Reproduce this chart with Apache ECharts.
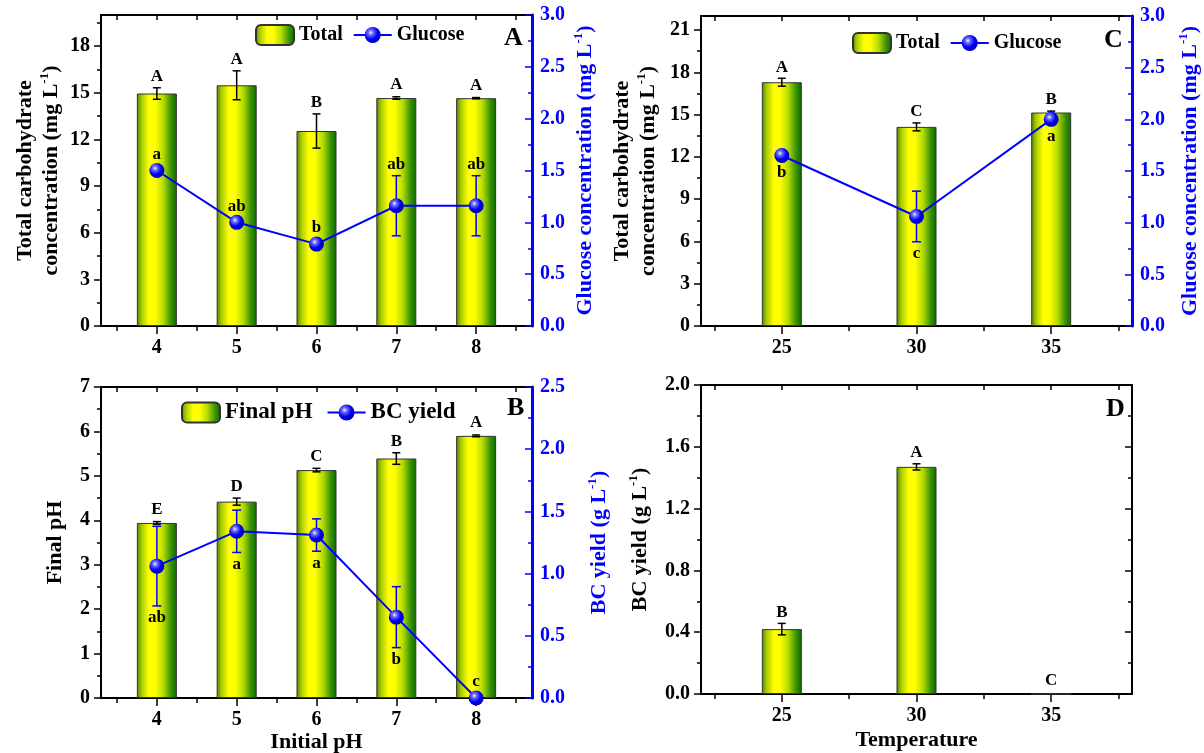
<!DOCTYPE html>
<html><head><meta charset="utf-8">
<script src="https://cdn.jsdelivr.net/npm/echarts@6/dist/echarts.min.js"></script>
<style>html,body{margin:0;padding:0;background:#fff}#c{width:1204px;height:753px}</style>
</head><body><div id="c"></div>
<script>
const F = "'Liberation Serif','Times New Roman',serif";

// ---------- data ----------
const phValues = [4, 5, 6, 7, 8];
const phMinorTicks = [3.5, 4.5, 5.5, 6.5, 7.5, 8.5];
const tempValues = [25, 30, 35];
const tempMinorTicks = [22.5, 27.5, 32.5, 37.5];

// Panel A
const totalPH = [14.95, 15.48, 12.54, 14.66, 14.65];
const totalPHErr = [0.37, 0.93, 1.1, 0.08, 0.04];
const totalPHLetters = ['A', 'A', 'B', 'A', 'A'];
const glucosePH = [1.5, 1.0, 0.79, 1.16, 1.16];
const glucosePHErr = [0, 0, 0, 0.29, 0.29];
const glucosePHLetters = ['a', 'ab', 'b', 'ab', 'ab'];
const glucosePHLetterPos = ['above', 'above', 'above', 'above', 'above'];

// Panel B
const finalPH = [3.94, 4.42, 5.13, 5.39, 5.9];
const finalPHErr = [0.03, 0.08, 0.04, 0.13, 0.02];
const finalPHLetters = ['E', 'D', 'C', 'B', 'A'];
const bcYieldPH = [1.06, 1.34, 1.31, 0.65, 0];
const bcYieldPHErr = [0.32, 0.17, 0.13, 0.245, 0];
const bcYieldPHLetters = ['ab', 'a', 'a', 'b', 'c'];
const bcYieldPHLetterPos = ['below', 'below', 'below', 'below', 'above'];

// Panel C
const totalT = [17.3, 14.13, 15.15];
const totalTErr = [0.28, 0.28, 0.1];
const totalTLetters = ['A', 'C', 'B'];
const glucoseT = [1.65, 1.06, 2.0];
const glucoseTErr = [0.03, 0.245, 0.02];
const glucoseTLetters = ['b', 'c', 'a'];
const glucoseTLetterPos = ['below', 'below', 'below'];

// Panel D
const bcYieldT = [0.42, 1.47, 0];
const bcYieldTErr = [0.037, 0.02, 0];
const bcYieldTLetters = ['B', 'A', 'C'];

// tick labels
const yTotalPHTicks = [0, 3, 6, 9, 12, 15, 18];
const yTotalPHMinor = [1.5, 4.5, 7.5, 10.5, 13.5, 16.5, 19.5];
const yGlucTicks = [0, 0.5, 1.0, 1.5, 2.0, 2.5, 3.0];
const yGlucMinor = [0.25, 0.75, 1.25, 1.75, 2.25, 2.75];
const yFinalPHTicks = [0, 1, 2, 3, 4, 5, 6, 7];
const yFinalPHMinor = [0.5, 1.5, 2.5, 3.5, 4.5, 5.5, 6.5];
const yBCTicks = [0, 0.5, 1.0, 1.5, 2.0, 2.5];
const yBCMinor = [0.25, 0.75, 1.25, 1.75, 2.25];
const yTotalTTicks = [0, 3, 6, 9, 12, 15, 18, 21];
const yTotalTMinor = [1.5, 4.5, 7.5, 10.5, 13.5, 16.5, 19.5];
const yBCTTicks = [0, 0.4, 0.8, 1.2, 1.6, 2.0];
const yBCTMinor = [0.2, 0.6, 1.0, 1.4, 1.8];

// ---------- styles ----------
const BLUE = '#0000ff';
const barGrad = {type: 'linear', x: 0, y: 0, x2: 1, y2: 0, colorStops: [
  {offset: 0, color: '#4f8200'}, {offset: 0.12, color: '#a8cc00'},
  {offset: 0.3, color: '#ffff00'}, {offset: 0.46, color: '#ffff00'},
  {offset: 0.66, color: '#b4dc00'}, {offset: 0.85, color: '#3c9400'},
  {offset: 1, color: '#0c6800'}]};
const sphere = {type: 'radial', x: 0.38, y: 0.35, r: 0.68, colorStops: [
  {offset: 0, color: '#f4f4ff'}, {offset: 0.22, color: '#7070ff'},
  {offset: 0.6, color: '#0000ff'}, {offset: 1, color: '#0000a8'}]};

function rich(color) {
  return {
    b: {fontSize: 22, fontWeight: 'bold', fontFamily: F, color: color, lineHeight: 26},
    s: {fontSize: 13, fontWeight: 'bold', fontFamily: F, color: color, lineHeight: 12, verticalAlign: 'top'}
  };
}

const grids = [
  {left: 101, top: 15, width: 431, height: 311},
  {left: 101, top: 387, width: 431, height: 311},
  {left: 701, top: 16, width: 431, height: 310},
  {left: 701, top: 385, width: 431, height: 309}
].map(g => Object.assign({outerBoundsMode: 'none', containLabel: false}, g));

const xAxis = [], yAxis = [];
function addX(g, min, max, major, minor, name, nameGap) {
  const idx = xAxis.length;
  xAxis.push({type: 'value', gridIndex: g, position: 'bottom', min, max,
    name: name || '', nameLocation: 'middle', nameGap: nameGap || 30,
    nameTextStyle: {fontSize: 22, fontWeight: 'bold', fontFamily: F, color: '#000'},
    axisLine: {show: true, onZero: false, lineStyle: {color: '#000', width: 2}},
    axisTick: {show: true, customValues: major, length: 8, lineStyle: {color: '#000', width: 1.5}},
    axisLabel: {show: true, customValues: major, margin: 12, fontSize: 20, fontWeight: 'bold', fontFamily: F, color: '#000'},
    splitLine: {show: false}});
  xAxis.push({type: 'value', gridIndex: g, position: 'bottom', min, max,
    axisLine: {show: false, onZero: false},
    axisTick: {show: true, customValues: minor, length: 5, lineStyle: {color: '#000', width: 1.5}},
    axisLabel: {show: false}, splitLine: {show: false}});
  xAxis.push({type: 'value', gridIndex: g, position: 'top', min, max,
    axisLine: {show: true, onZero: false, lineStyle: {color: '#000', width: 2}},
    axisTick: {show: true, inside: true, customValues: major.concat(minor), length: 5, lineStyle: {color: '#000', width: 1.5}},
    axisLabel: {show: false}, splitLine: {show: false}});
  return idx;
}
function addY(g, side, min, max, major, minor, opt) {
  const color = opt.color || '#000';
  const idx = yAxis.length;
  const inside = side === 'right';
  yAxis.push({type: 'value', gridIndex: g, position: side, min, max,
    name: opt.name || '', nameLocation: 'middle', nameGap: opt.nameGap || 40, nameRotate: 90,
    nameTextStyle: {rich: rich(color), align: 'center'},
    axisLine: {show: opt.line !== false, onZero: false, lineStyle: {color: color, width: side === 'right' && color !== '#000' ? 3 : 2}},
    axisTick: {show: true, inside: inside, customValues: major, length: 7, lineStyle: {color: color, width: 1.5}},
    axisLabel: {show: opt.labels !== false, customValues: major, margin: inside ? 8 : 11,
      fontSize: 20, fontWeight: 'bold', fontFamily: F, color: color,
      formatter: v => opt.dec ? Number(v).toFixed(1) : String(Math.round(v))},
    splitLine: {show: false}});
  yAxis.push({type: 'value', gridIndex: g, position: side, min, max,
    axisLine: {show: false, onZero: false},
    axisTick: {show: true, inside: inside, customValues: minor, length: 4, lineStyle: {color: color, width: 1.5}},
    axisLabel: {show: false}, splitLine: {show: false}});
  return idx;
}

// axes
const xA = addX(0, 3.3, 8.7, phValues, phMinorTicks);
const xB = addX(1, 3.3, 8.7, phValues, phMinorTicks, 'Initial pH', 31);
const xC = addX(2, 22, 38, tempValues, tempMinorTicks);
const xD = addX(3, 22, 38, tempValues, tempMinorTicks, 'Temperature', 35);

const nameTotal = '{b|Total carbohydrate}\n{b|concentration (mg L}{s|-1}{b|)}';
const yAL = addY(0, 'left', 0, 20, yTotalPHTicks, yTotalPHMinor, {name: nameTotal, nameGap: 37});
const yAR = addY(0, 'right', 0, 3, yGlucTicks, yGlucMinor, {color: BLUE, dec: true,
  name: '{b|Glucose concentration (mg L}{s|-1}{b|)}', nameGap: 40});
const yBL = addY(1, 'left', 0, 7, yFinalPHTicks, yFinalPHMinor, {name: '{b|Final pH}', nameGap: 33});
const yBR = addY(1, 'right', 0, 2.5, yBCTicks, yBCMinor, {color: BLUE, dec: true,
  name: '{b|BC yield (g L}{s|-1}{b|)}', nameGap: 54});
const yCL = addY(2, 'left', 0, 22, yTotalTTicks, yTotalTMinor, {name: nameTotal, nameGap: 40});
const yCR = addY(2, 'right', 0, 3, yGlucTicks, yGlucMinor, {color: BLUE, dec: true,
  name: '{b|Glucose concentration (mg L}{s|-1}{b|)}', nameGap: 45});
const yDL = addY(3, 'left', 0, 2, yBCTTicks, yBCTMinor, {dec: true, name: '{b|BC yield (g L}{s|-1}{b|)}', nameGap: 48});
const yDR = addY(3, 'right', 0, 2, yBCTTicks, yBCTMinor, {labels: false});

// ---------- series helpers ----------
function makeErr(color, capHalf, letters, pos, minGapAbove, minGapBelow) {
  return function (params, api) {
    const i = api.value(3);
    const x = api.value(0), v = api.value(1), e = api.value(2);
    const c = api.coord([x, v]);
    const top = api.coord([x, v + e])[1];
    const bot = api.coord([x, v - e])[1];
    const ch = [];
    if (e > 0) {
      const ls = {stroke: color, lineWidth: 1.5};
      ch.push({type: 'line', shape: {x1: c[0], y1: top, x2: c[0], y2: bot}, style: ls});
      ch.push({type: 'line', shape: {x1: c[0] - capHalf, y1: top, x2: c[0] + capHalf, y2: top}, style: ls});
      ch.push({type: 'line', shape: {x1: c[0] - capHalf, y1: bot, x2: c[0] + capHalf, y2: bot}, style: ls});
    }
    const p = pos ? pos[i] : 'above';
    const ty = p === 'above' ? Math.min(top - 11, c[1] - minGapAbove) : Math.max(bot + 12, c[1] + minGapBelow);
    ch.push({type: 'text', x: c[0], y: ty, style: {text: letters[i], fill: '#000', fontSize: 17,
      fontWeight: 'bold', fontFamily: F, align: 'center', verticalAlign: 'middle'}});
    return {type: 'group', children: ch};
  };
}
const series = [];
function addBar(name, xi, yi, xs, vals, errs, letters) {
  series.push({type: 'bar', name: name, xAxisIndex: xi, yAxisIndex: yi, barWidth: 40,
    data: xs.map((x, i) => [x, vals[i]]),
    itemStyle: {color: barGrad, borderColor: '#333', borderWidth: 1}, z: 2});
  series.push({type: 'custom', xAxisIndex: xi, yAxisIndex: yi, clip: false, silent: true, z: 3,
    data: xs.map((x, i) => [x, vals[i], errs[i], i]),
    renderItem: makeErr('#000', 4, letters, null, 13, 13)});
}
function addLine(name, xi, yi, xs, vals, errs, letters, pos) {
  series.push({type: 'custom', xAxisIndex: xi, yAxisIndex: yi, clip: false, silent: true, z: 4,
    data: xs.map((x, i) => [x, vals[i], errs[i], i]),
    renderItem: makeErr(BLUE, 4.5, letters, pos, 16, 17)});
  series.push({type: 'line', name: name, xAxisIndex: xi, yAxisIndex: yi, clip: false, z: 5,
    data: xs.map((x, i) => [x, vals[i]]), symbol: 'circle', symbolSize: 15,
    lineStyle: {color: BLUE, width: 2}, itemStyle: {color: sphere, borderWidth: 0}});
}

addBar('Total', xA, yAL, phValues, totalPH, totalPHErr, totalPHLetters);
addLine('Glucose', xA, yAR, phValues, glucosePH, glucosePHErr, glucosePHLetters, glucosePHLetterPos);
addBar('Final pH', xB, yBL, phValues, finalPH, finalPHErr, finalPHLetters);
addLine('BC yield', xB, yBR, phValues, bcYieldPH, bcYieldPHErr, bcYieldPHLetters, bcYieldPHLetterPos);
addBar('Total', xC, yCL, tempValues, totalT, totalTErr, totalTLetters);
addLine('Glucose', xC, yCR, tempValues, glucoseT, glucoseTErr, glucoseTLetters, glucoseTLetterPos);
addBar('BC', xD, yDL, tempValues, bcYieldT, bcYieldTErr, bcYieldTLetters);

const legendText = size => ({fontSize: size, fontWeight: 'bold', fontFamily: F, color: '#000'});
const panelTitle = (t, left, top) => ({text: t, left: left, top: top, padding: 0,
  textStyle: {fontSize: 26, fontWeight: 'bold', fontFamily: F, color: '#000', lineHeight: 26}});

const chart = echarts.init(document.getElementById('c'), null, {renderer: 'canvas'});
chart.setOption({
  animation: false,
  backgroundColor: '#fff',
  title: [panelTitle('A', 504, 25), panelTitle('B', 507, 395), panelTitle('C', 1104, 27), panelTitle('D', 1106, 396)],
  legend: [
    {data: ['Total', 'Glucose'], left: 255, top: 24, itemWidth: 38, itemHeight: 20, itemGap: 10,
      selectedMode: false, padding: 0, textStyle: legendText(20)},
    {data: ['Final pH', 'BC yield'], left: 181, top: 401, itemWidth: 38, itemHeight: 20, itemGap: 14,
      selectedMode: false, padding: 0, textStyle: legendText(23)},
    {data: ['Total', 'Glucose'], left: 852, top: 32, itemWidth: 38, itemHeight: 20, itemGap: 10,
      selectedMode: false, padding: 0, textStyle: legendText(20)}
  ],
  grid: grids,
  xAxis: xAxis,
  yAxis: yAxis,
  series: series
});
</script></body></html>
